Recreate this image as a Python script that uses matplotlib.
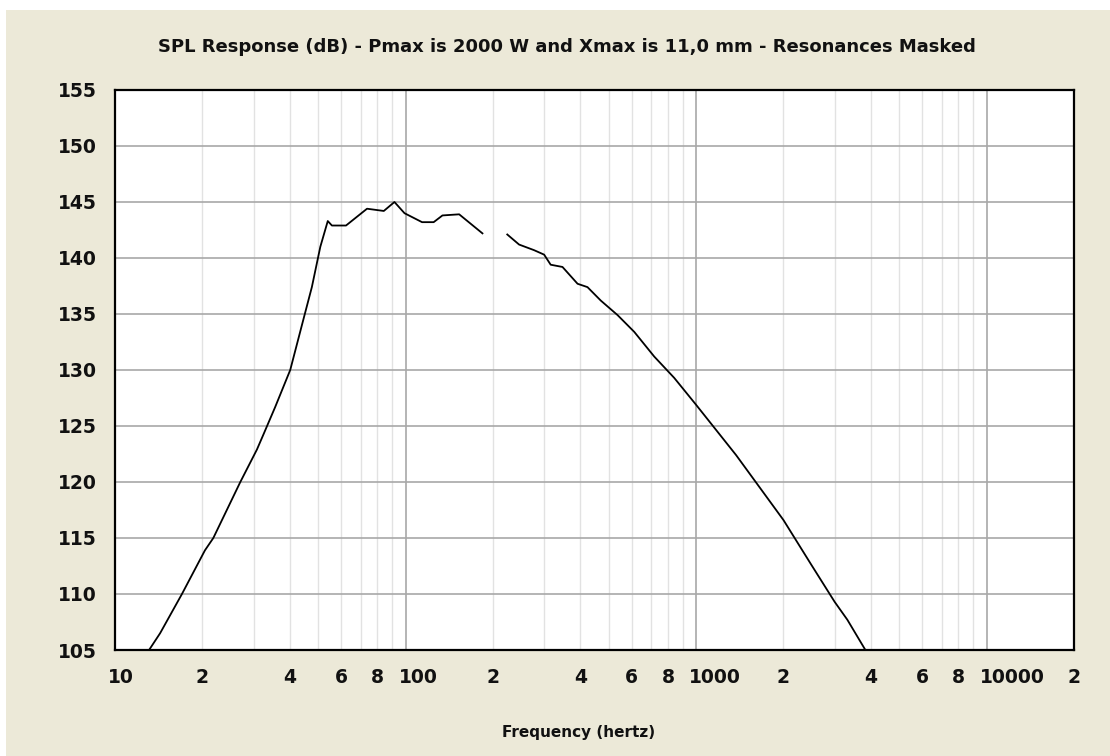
import matplotlib
matplotlib.use("Agg")
import matplotlib.pyplot as plt
import matplotlib.transforms as mtransforms
from matplotlib.patches import Rectangle
from matplotlib.ticker import FixedLocator, FixedFormatter

# SPL response, two segments (gap where resonances are masked)
seg1_freq = [13.1, 14.3, 17.0, 20.4, 21.8, 27.0, 30.8, 32.5, 35.6, 40.1, 44.6, 47.6,
             50.9, 54.0, 55.8, 62.4, 73.7, 84.2, 91.6, 99.2, 114, 125, 134, 153, 184]
seg1_spl = [105.0, 106.5, 110.0, 113.9, 115.0, 120.0, 122.9, 124.3, 126.7, 130.0, 134.6, 137.4,
            141.0, 143.3, 142.9, 142.9, 144.4, 144.2, 145.0, 144.0, 143.2, 143.2, 143.8, 143.9, 142.2]
seg2_freq = [224, 246, 277, 300, 316, 347, 391, 423, 470, 537, 613, 718, 841, 1000,
             1374, 2000, 2495, 3000, 3318, 3828]
seg2_spl = [142.1, 141.2, 140.7, 140.3, 139.4, 139.2, 137.7, 137.4, 136.2, 134.9, 133.4, 131.2, 129.3, 126.9,
            122.4, 116.6, 112.6, 109.3, 107.7, 105.0]

y_ticks = [105, 110, 115, 120, 125, 130, 135, 140, 145, 150, 155]
major_freq = [10, 100, 1000, 10000]
major_labels = ["10", "100", "1000", "10000"]
minor_freq = [m * d for d in [10, 100, 1000] for m in range(2, 10)] + [20000]
minor_labels = [str(m) if m in (2, 4, 6, 8) else "" for d in [10, 100, 1000] for m in range(2, 10)] + ["2"]

title = "SPL Response (dB) - Pmax is 2000 W and Xmax is 11,0 mm - Resonances Masked"
xlabel = "Frequency (hertz)"

W, H = 1110, 756
bg = "#ECE9D8"

fig = plt.figure(figsize=(W / 100, H / 100), dpi=100, facecolor="white")
fig.patches.append(Rectangle((6 / W, 0), 1, 1 - 10 / H, transform=fig.transFigure,
                             facecolor=bg, edgecolor="none", zorder=-10))

ax = fig.add_axes([115 / W, 1 - 650 / H, (1074 - 115) / W, (650 - 90) / H])
ax.set_facecolor("white")
ax.set_xscale("log")
ax.set_xlim(10, 20000)
ax.set_ylim(105, 155)

ax.plot(seg1_freq, seg1_spl, color="black", lw=1.3, zorder=5)
ax.plot(seg2_freq, seg2_spl, color="black", lw=1.3, zorder=5)

ax.xaxis.set_major_locator(FixedLocator(major_freq))
ax.xaxis.set_major_formatter(FixedFormatter(major_labels))
ax.xaxis.set_minor_locator(FixedLocator(minor_freq))
ax.xaxis.set_minor_formatter(FixedFormatter(minor_labels))
ax.set_yticks(y_ticks)

ax.grid(True, which="major", axis="both", color="#A8A8A8", lw=1.2)
ax.grid(True, which="minor", axis="x", color="#E2E2E2", lw=1.0)
ax.set_axisbelow(True)

tick_font = dict(family="DejaVu Sans", weight="bold", size=13.5)
ax.tick_params(axis="both", which="both", length=0)
ax.tick_params(axis="x", which="both", pad=13)
ax.tick_params(axis="y", pad=13)
for lab in ax.get_xticklabels(which="both") + ax.get_yticklabels():
    lab.set_fontproperties(tick_font)
    lab.set_color("#111111")

# decade labels sit just left of their gridline, left-aligned
shift = mtransforms.ScaledTranslation(-7 / 100, 0, fig.dpi_scale_trans)
for lab in ax.get_xticklabels():
    lab.set_horizontalalignment("left")
    lab.set_transform(lab.get_transform() + shift)

for s in ax.spines.values():
    s.set_linewidth(1.6)
    s.set_color("black")

fig.text(567 / W, 1 - 47 / H, title, ha="center", va="center",
         family="DejaVu Sans", weight="bold", fontsize=13, color="#111111")
fig.text(579 / W, 1 - 732 / H, xlabel, ha="center", va="center",
         family="DejaVu Sans", weight="bold", fontsize=11, color="#111111")

fig.savefig("out.png", dpi=100, facecolor="white")
